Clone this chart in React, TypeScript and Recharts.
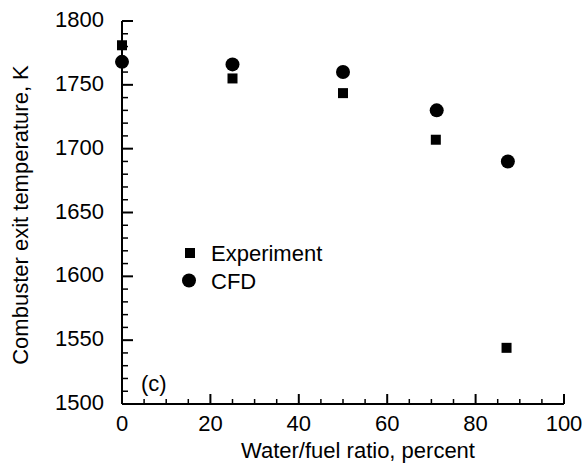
import React from "react";
import { ScatterChart, Scatter, XAxis, YAxis, Customized } from "recharts";

const experimentX = [0, 25, 50, 71, 87];
const experimentY = [1781, 1755, 1743.5, 1707, 1544];
const cfdX = [0, 25, 50, 71.2, 87.3];
const cfdY = [1768, 1766, 1760, 1730, 1690];

const seriesNames = ["Experiment", "CFD"];

const xTicks = [0, 5, 10, 15, 20, 25, 30, 35, 40, 45, 50, 55, 60, 65, 70, 75, 80, 85, 90, 95, 100];
const xMajor = [0, 20, 40, 60, 80, 100];
const yTicks = [1500, 1510, 1520, 1530, 1540, 1550, 1560, 1570, 1580, 1590, 1600, 1610, 1620, 1630, 1640, 1650, 1660, 1670, 1680, 1690, 1700, 1710, 1720, 1730, 1740, 1750, 1760, 1770, 1780, 1790, 1800];
const yMajor = [1500, 1550, 1600, 1650, 1700, 1750, 1800];

const experimentData = experimentX.map((x, i) => ({ x, y: experimentY[i] }));
const cfdData = cfdX.map((x, i) => ({ x, y: cfdY[i] }));

const FONT = "'Liberation Sans', Arial, Helvetica, sans-serif";

const XTick = (props: any) => {
  const { x, y, payload } = props;
  const v = payload.value;
  const major = xMajor.includes(v);
  return (
    <g>
      <line x1={x} x2={x} y1={y} y2={y - (major ? 10 : 5)} stroke="#000" strokeWidth={major ? 2 : 1.5} />
      {major && (
        <text x={x} y={y + 27} textAnchor="middle" fontSize={22} fontFamily={FONT} fill="#000">
          {v}
        </text>
      )}
    </g>
  );
};

const YTick = (props: any) => {
  const { x, y, payload } = props;
  const v = payload.value;
  const major = yMajor.includes(v);
  return (
    <g>
      <line x1={x} x2={x + (major ? 11 : 6)} y1={y} y2={y} stroke="#000" strokeWidth={major ? 2 : 1.5} />
      {major && (
        <text x={x - 18} y={y + 6} textAnchor="end" fontSize={22} fontFamily={FONT} fill="#000">
          {v}
        </text>
      )}
    </g>
  );
};

const Square = (props: any) => {
  const { cx, cy } = props;
  return <rect x={cx - 5} y={cy - 5} width={10} height={10} fill="#000" />;
};

const Dot = (props: any) => {
  const { cx, cy } = props;
  return <circle cx={cx} cy={cy} r={7} fill="#000" />;
};

const Annotations = () => (
  <g>
    <text x={358} y={458} textAnchor="middle" fontSize={22} fontFamily={FONT} fill="#000">
      Water/fuel ratio, percent
    </text>
    <text
      x={0}
      y={0}
      transform="translate(28,215) rotate(-90)"
      textAnchor="middle"
      fontSize={22}
      fontFamily={FONT}
      fill="#000"
    >
      Combuster exit temperature, K
    </text>
    <text x={141} y={391} fontSize={22} fontFamily={FONT} fill="#000">
      (c)
    </text>
    <g>
      <rect x={185} y={248} width={10} height={10} fill="#000" />
      <text x={211} y={261} fontSize={22} fontFamily={FONT} fill="#000">
        {seriesNames[0]}
      </text>
      <circle cx={189} cy={280.5} r={7} fill="#000" />
      <text x={211} y={289} fontSize={22} fontFamily={FONT} fill="#000">
        {seriesNames[1]}
      </text>
    </g>
  </g>
);

export default function App() {
  return (
    <div style={{ position: "absolute", left: 0, top: 0, width: 585, height: 466, background: "#fff" }}>
      <ScatterChart width={585} height={466} margin={{ top: 21, right: 21, bottom: 61, left: 121 }}>
        <XAxis
          type="number"
          dataKey="x"
          domain={[0, 100]}
          ticks={xTicks}
          interval={0}
          height={1}
          tickSize={0}
          tickMargin={0}
          tickLine={false}
          axisLine={{ stroke: "#000", strokeWidth: 2 }}
          tick={<XTick />}
        />
        <YAxis
          type="number"
          dataKey="y"
          domain={[1500, 1800]}
          ticks={yTicks}
          interval={0}
          width={1}
          tickSize={0}
          tickMargin={0}
          tickLine={false}
          axisLine={{ stroke: "#000", strokeWidth: 2 }}
          tick={<YTick />}
        />
        <Scatter name={seriesNames[0]} data={experimentData} shape={<Square />} isAnimationActive={false} />
        <Scatter name={seriesNames[1]} data={cfdData} shape={<Dot />} isAnimationActive={false} />
        <Customized component={Annotations} />
      </ScatterChart>
    </div>
  );
}
